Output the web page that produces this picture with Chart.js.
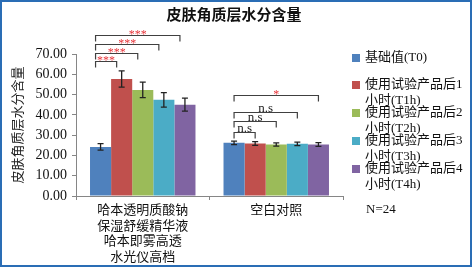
<!DOCTYPE html>
<html>
<head>
<meta charset="utf-8">
<script src="https://cdn.jsdelivr.net/npm/chart.js@4.4.1/dist/chart.umd.min.js"></script>
<style>
  html, body { margin: 0; padding: 0; background: #fff; }
  #wrap { position: relative; width: 472px; height: 267px; }
  #frame { position: absolute; left: 0; top: 0; width: 472px; height: 267px; box-sizing: border-box;
           border: 2px solid #2a6db5; pointer-events: none; }
</style>
</head>
<body>
<div id="wrap">
  <canvas id="c" width="472" height="267"></canvas>
  <div id="frame"></div>
</div>
<script>
// ── data ──
const title = '皮肤角质层水分含量';
const yTitle = '皮肤角质层水分含量';
const categories = [['哈本透明质酸钠', '保湿舒缓精华液', '哈本即雾高透', '水光仪高档'], '空白对照'];
const seriesNames = [
  ['基础值(T0)'],
  ['使用试验产品后1', '小时(T1h)'],
  ['使用试验产品后2', '小时(T2h)'],
  ['使用试验产品后3', '小时(T3h)'],
  ['使用试验产品后4', '小时(T4h)'],
];
const t0 = [24.2, 26.2], t0Err = [1.6, 0.9];
const t1 = [57.7, 25.9], t1Err = [4.0, 0.9];
const t2 = [52.3, 25.4], t2Err = [3.8, 0.8];
const t3 = [47.4, 25.7], t3Err = [3.6, 0.9];
const t4 = [45.0, 25.4], t4Err = [3.2, 0.9];
const yTicks = [0, 10, 20, 30, 40, 50, 60, 70];
const sampleNote = 'N=24';

// significance brackets (T0 vs Tn), heights in data units
const sigLevels1 = [66.6, 70.3, 74.9, 79.5];
const sigLabels1 = ['***', '***', '***', '***'];
const sigLevels2 = [31.7, 37.1, 41.5, 49.8];
const sigLabels2 = ['n.s', 'n.s', 'n.s', '*'];

const colors = ['#4f81bd', '#c0504d', '#9bbb59', '#4bacc6', '#8064a2'];
const values = [t0, t1, t2, t3, t4];
const errors = [t0Err, t1Err, t2Err, t3Err, t4Err];
const FONT = "'Liberation Serif', 'Noto Sans CJK SC', serif";

const extras = {
  id: 'extras',
  afterDatasetsDraw(chart) {
    const ctx = chart.ctx, y = chart.scales.y;
    ctx.save();
    // error bars
    ctx.strokeStyle = '#222';
    ctx.lineWidth = 1.3;
    values.forEach((vals, i) => {
      const meta = chart.getDatasetMeta(i);
      vals.forEach((v, j) => {
        const x = meta.data[j].x;
        const top = y.getPixelForValue(v + errors[i][j]);
        const bot = y.getPixelForValue(v - errors[i][j]);
        ctx.beginPath();
        ctx.moveTo(x, top); ctx.lineTo(x, bot);
        ctx.moveTo(x - 3, top); ctx.lineTo(x + 3, top);
        ctx.moveTo(x - 3, bot); ctx.lineTo(x + 3, bot);
        ctx.stroke();
      });
    });
    // brackets
    const groups = [
      { cat: 0, levels: sigLevels1, labels: sigLabels1, shift: -5 },
      { cat: 1, levels: sigLevels2, labels: sigLabels2, shift: 0 },
    ];
    ctx.lineWidth = 1.2;
    ctx.strokeStyle = '#404040';
    groups.forEach(g => {
      const x0 = chart.getDatasetMeta(0).data[g.cat].x + g.shift;
      g.levels.forEach((lv, k) => {
        const x1 = chart.getDatasetMeta(k + 1).data[g.cat].x + g.shift;
        const yy = Math.round(y.getPixelForValue(lv)) + 0.5;
        ctx.beginPath();
        ctx.moveTo(x0, yy + 6); ctx.lineTo(x0, yy); ctx.lineTo(x1, yy); ctx.lineTo(x1, yy + 6);
        ctx.stroke();
        const lab = g.labels[k];
        ctx.textAlign = 'center';
        ctx.textBaseline = 'alphabetic';
        if (lab === 'n.s') {
          ctx.fillStyle = '#222';
          ctx.font = '13px ' + FONT;
          ctx.fillText(lab, (x0 + x1) / 2, yy - 1);
        } else {
          ctx.fillStyle = '#e8353a';
          ctx.font = '12px ' + FONT;
          ctx.fillText(lab, (x0 + x1) / 2, yy + 2);
        }
      });
    });
    ctx.restore();
  },
  afterDraw(chart) {
    const ctx = chart.ctx;
    ctx.save();
    ctx.fillStyle = '#111';
    ctx.textAlign = 'center';
    ctx.textBaseline = 'middle';
    ctx.font = 'bold 15px ' + FONT;
    ctx.fillText(title, 234, 16);
    // legend
    const firstY = [58, 85, 113, 141, 169];
    ctx.textAlign = 'left';
    ctx.font = '13px ' + FONT;
    seriesNames.forEach((lines, i) => {
      ctx.fillStyle = colors[i];
      ctx.fillRect(352, firstY[i] - 4, 8, 8);
      ctx.fillStyle = '#111';
      lines.forEach((t, l) => ctx.fillText(t, 365, firstY[i] + l * 16));
    });
    ctx.fillText(sampleNote, 366, 210);
    ctx.restore();
  }
};

new Chart(document.getElementById('c'), {
  type: 'bar',
  data: {
    labels: categories,
    datasets: values.map((v, i) => ({
      label: seriesNames[i].join(''),
      data: v,
      backgroundColor: colors[i],
      borderColor: colors[i],
      borderWidth: 0,
      categoryPercentage: 0.79,
      barPercentage: 1,
    }))
  },
  options: {
    responsive: false,
    animation: false,
    devicePixelRatio: 1,
    layout: { padding: { left: 3, top: 54, right: 129, bottom: 3 } },
    plugins: { legend: { display: false }, tooltip: { enabled: false } },
    scales: {
      x: {
        grid: { drawOnChartArea: false, drawTicks: true, tickLength: 4, color: '#868686', offset: true },
        border: { display: true, color: '#868686', width: 1 },
        ticks: { color: '#111', font: { family: FONT, size: 13, lineHeight: 1.2 }, padding: 3, maxRotation: 0, autoSkip: false },
        afterFit: s => { s.height = 267 - 196 - 3; }
      },
      y: {
        min: 0, max: 70,
        afterBuildTicks: s => { s.ticks = yTicks.map(v => ({ value: v })); },
        grid: { drawOnChartArea: false, drawTicks: true, tickLength: 4, color: '#868686' },
        border: { display: true, color: '#868686', width: 1 },
        ticks: { color: '#111', font: { family: FONT, size: 14 }, padding: 5, callback: v => v.toFixed(2) },
        title: { display: true, text: yTitle, color: '#222', font: { family: FONT, size: 13 }, padding: { top: 8, bottom: 0 } },
        afterFit: s => { s.width = 73; }
      }
    }
  },
  plugins: [extras]
});
</script>
</body>
</html>
